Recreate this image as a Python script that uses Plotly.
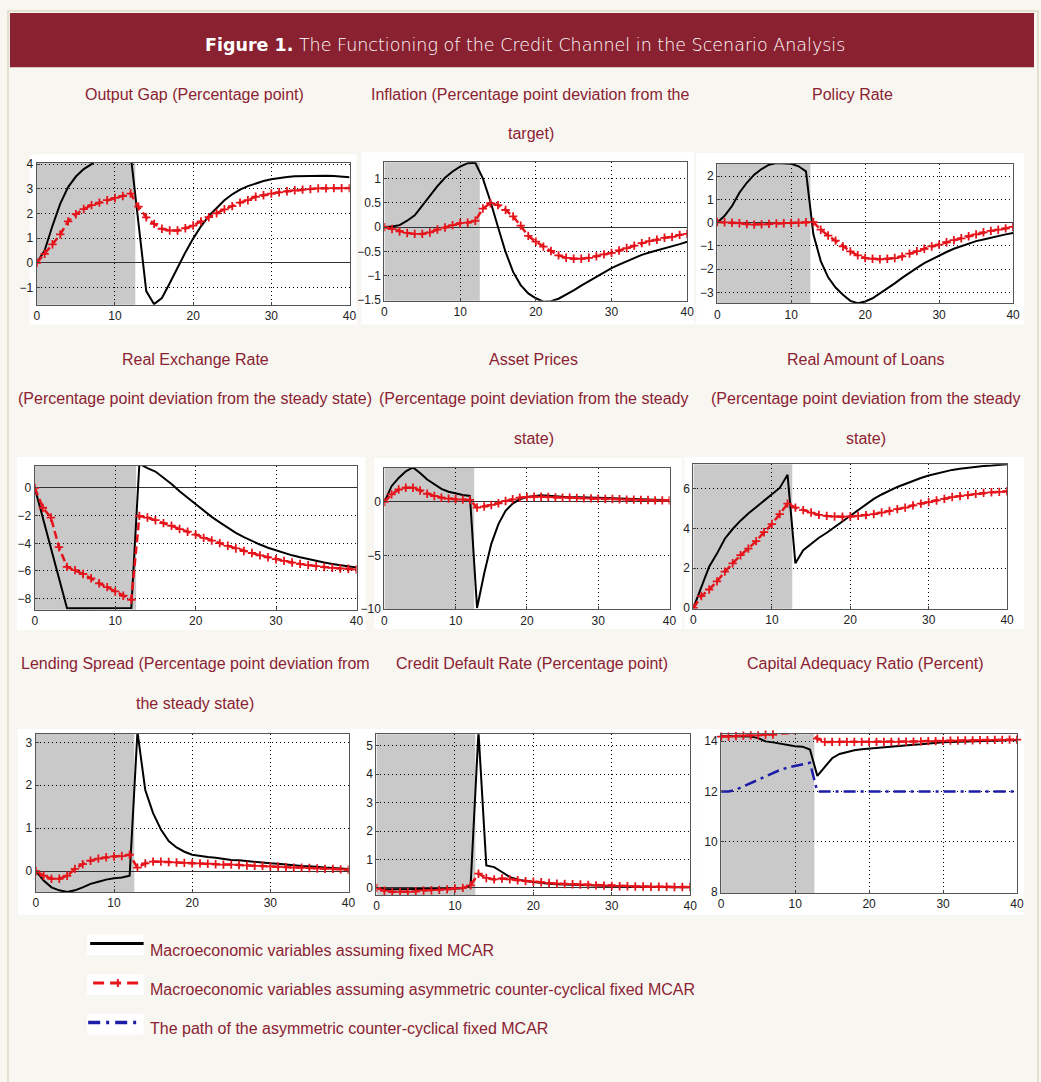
import plotly.graph_objects as go

W, H = 1041, 1082

quarters = list(range(41))
shock_end = 12.6
x_ticks = [0, 10, 20, 30, 40]

# ---------------- data ----------------
output_gap_fixed = [0, 0.5, 1.5, 2.4, 3.07, 3.5, 3.8, 4.0, 4.3, 4.5, 4.6, 4.6, 4.4,
                    1.5, -1.15, -1.68, -1.43, -0.83, -0.17, 0.42, 0.98,
                    1.48, 1.9, 2.24, 2.54, 2.78, 2.97, 3.11, 3.23, 3.32, 3.39,
                    3.44, 3.48, 3.51, 3.52, 3.53, 3.53, 3.53, 3.52, 3.5, 3.47]
output_gap_ccyb = [0, 0.36, 0.75, 1.15, 1.68, 1.97, 2.18, 2.34, 2.44, 2.54, 2.63, 2.71, 2.81,
                   2.28, 1.84, 1.58, 1.38, 1.31, 1.31, 1.4, 1.51,
                   1.68, 1.85, 2.01, 2.17, 2.3, 2.44, 2.54, 2.68, 2.74, 2.81,
                   2.86, 2.9, 2.94, 2.97, 2.99, 3.02, 3.02, 3.03, 3.03, 3.03]

inflation_fixed = [0, 0.01, 0.04, 0.13, 0.24, 0.43, 0.64, 0.84, 1.01, 1.14, 1.24, 1.31, 1.32,
                   1.0, 0.53, 0.0, -0.51, -0.92, -1.19, -1.36, -1.46,
                   -1.53, -1.52, -1.47, -1.39, -1.3, -1.2, -1.11, -1.01, -0.93, -0.84,
                   -0.77, -0.7, -0.64, -0.57, -0.52, -0.48, -0.43, -0.39, -0.35, -0.3]
inflation_ccyb = [0, -0.04, -0.09, -0.12, -0.14, -0.14, -0.11, -0.05, -0.01, 0.04, 0.08, 0.09, 0.13,
                  0.38, 0.49, 0.45, 0.35, 0.22, 0.03, -0.18, -0.3,
                  -0.4, -0.49, -0.58, -0.63, -0.65, -0.65, -0.63, -0.6, -0.56, -0.53,
                  -0.48, -0.43, -0.38, -0.33, -0.29, -0.26, -0.22, -0.2, -0.16, -0.14]

policy_fixed = [0, 0.3, 0.72, 1.29, 1.72, 2.07, 2.31, 2.5, 2.57, 2.57, 2.54, 2.43, 2.21,
                -0.5, -1.65, -2.35, -2.79, -3.1, -3.36, -3.46, -3.39,
                -3.25, -3.04, -2.82, -2.61, -2.37, -2.14, -1.94, -1.74, -1.57, -1.4,
                -1.26, -1.12, -1.01, -0.89, -0.79, -0.72, -0.64, -0.57, -0.5, -0.44]
policy_ccyb = [0.03, 0.02, 0.0, -0.02, -0.06, -0.08, -0.07, -0.05, -0.03, -0.02, -0.01, 0.0, 0.02,
               0.03, -0.3, -0.55, -0.77, -1.02, -1.23, -1.4, -1.52,
               -1.55, -1.57, -1.55, -1.52, -1.45, -1.33, -1.22, -1.12, -1.02, -0.94,
               -0.84, -0.75, -0.67, -0.58, -0.5, -0.41, -0.35, -0.3, -0.24, -0.18]

rer_fixed = [0, -2.2, -4.4, -6.6, -8.7, -8.7, -8.7, -8.7, -8.7, -8.7, -8.7, -8.7, -8.68,
             1.75, 1.43, 1.19, 0.76, 0.29, -0.24, -0.71, -1.19,
             -1.66, -2.09, -2.49, -2.9, -3.25, -3.56, -3.85, -4.09, -4.32, -4.51,
             -4.7, -4.87, -5.01, -5.15, -5.27, -5.39, -5.49, -5.58, -5.65, -5.75]
rer_ccyb = [0, -1.43, -2.14, -4.28, -5.7, -5.94, -6.22, -6.53, -6.89, -7.17, -7.48, -7.79, -8.08,
            -2.02, -2.14, -2.33, -2.54, -2.73, -2.97, -3.16, -3.37,
            -3.61, -3.8, -3.99, -4.18, -4.37, -4.56, -4.7, -4.87, -5.01, -5.15,
            -5.27, -5.39, -5.49, -5.58, -5.65, -5.72, -5.77, -5.82, -5.84, -5.89]

asset_fixed = [0, 1.48, 2.25, 2.87, 3.24, 2.72, 2.1, 1.64, 1.23, 0.96, 0.77, 0.65, 0.56,
               -9.94, -6.7, -3.92, -2.07, -0.83, -0.15, 0.25, 0.46,
               0.56, 0.62, 0.59, 0.52, 0.49, 0.46, 0.46, 0.43, 0.4, 0.4,
               0.37, 0.34, 0.31, 0.28, 0.25, 0.22, 0.19, 0.19, 0.15, 0.15]
asset_ccyb = [0, 0.71, 1.17, 1.33, 1.33, 1.08, 0.77, 0.56, 0.4, 0.31, 0.25, 0.22, 0.19,
              -0.52, -0.43, -0.28, -0.12, 0.09, 0.25, 0.4, 0.46,
              0.49, 0.49, 0.46, 0.43, 0.4, 0.4, 0.37, 0.34, 0.34, 0.31,
              0.28, 0.28, 0.25, 0.22, 0.22, 0.19, 0.19, 0.15, 0.15, 0.15]

loans_fixed = [0, 1.09, 2.08, 2.74, 3.49, 3.98, 4.4, 4.76, 5.09, 5.39, 5.75, 6.05, 6.71,
               2.25, 2.91, 3.24, 3.54, 3.79, 4.07, 4.36, 4.64,
               4.93, 5.22, 5.5, 5.72, 5.92, 6.1, 6.25, 6.41, 6.55, 6.68,
               6.78, 6.88, 6.96, 7.02, 7.07, 7.12, 7.16, 7.18, 7.21, 7.25]
loans_ccyb = [0, 0.6, 0.93, 1.34, 1.83, 2.25, 2.66, 2.99, 3.37, 3.82, 4.23, 4.73, 5.26,
              5.06, 4.93, 4.81, 4.69, 4.64, 4.61, 4.6, 4.61,
              4.64, 4.68, 4.73, 4.81, 4.89, 4.98, 5.06, 5.17, 5.26, 5.34,
              5.42, 5.5, 5.59, 5.64, 5.69, 5.75, 5.8, 5.83, 5.85, 5.88]

spread_fixed = [0, -0.22, -0.38, -0.45, -0.49, -0.45, -0.38, -0.3, -0.25, -0.2, -0.17, -0.15, -0.11,
                3.25, 1.89, 1.35, 0.97, 0.7, 0.55, 0.45, 0.38,
                0.35, 0.33, 0.31, 0.28, 0.26, 0.25, 0.23, 0.22, 0.2, 0.18,
                0.17, 0.15, 0.14, 0.12, 0.11, 0.09, 0.08, 0.07, 0.06, 0.05]
spread_ccyb = [0, -0.11, -0.18, -0.18, -0.11, 0.05, 0.16, 0.24, 0.29, 0.32, 0.34, 0.35, 0.38,
               0.08, 0.18, 0.22, 0.22, 0.21, 0.2, 0.19, 0.18,
               0.18, 0.17, 0.16, 0.15, 0.15, 0.14, 0.13, 0.12, 0.12, 0.11,
               0.1, 0.09, 0.08, 0.08, 0.07, 0.06, 0.05, 0.05, 0.04, 0.03]

default_fixed = [0, -0.04, -0.05, -0.05, -0.05, -0.05, -0.04, -0.04, -0.03, -0.03, -0.02, -0.01, 0.1,
                 5.5, 0.79, 0.73, 0.56, 0.38, 0.3, 0.24, 0.21,
                 0.17, 0.15, 0.13, 0.12, 0.1, 0.09, 0.08, 0.07, 0.07, 0.06,
                 0.05, 0.05, 0.04, 0.04, 0.03, 0.03, 0.03, 0.02, 0.02, 0.02]
default_ccyb = [0, -0.1, -0.14, -0.14, -0.14, -0.12, -0.09, -0.08, -0.07, -0.05, -0.02, 0, 0.09,
                0.5, 0.35, 0.3, 0.33, 0.3, 0.27, 0.24, 0.22,
                0.2, 0.17, 0.15, 0.14, 0.13, 0.12, 0.1, 0.09, 0.08, 0.07,
                0.06, 0.06, 0.05, 0.05, 0.04, 0.04, 0.04, 0.03, 0.03, 0.03]

car_fixed = [14.2, 14.2, 14.2, 14.2, 14.18, 14.12, 13.99, 13.95, 13.9, 13.85, 13.8, 13.78, 13.67,
             12.62, 12.99, 13.32, 13.49, 13.58, 13.64, 13.68, 13.71,
             13.74, 13.75, 13.78, 13.8, 13.83, 13.86, 13.88, 13.91, 13.93, 13.96,
             13.97, 13.98, 13.99, 14.0, 14.0, 14.01, 14.02, 14.02, 14.03, 14.03]
car_ccyb = [14.18, 14.18, 14.2, 14.22, 14.23, 14.23, 14.25, 14.26, 14.28, 14.3, 14.32, 14.35, 14.37,
            14.1, 13.97, 13.97, 13.97, 13.97, 13.97, 13.97, 13.97,
            13.97, 13.97, 13.97, 13.97, 13.98, 13.98, 13.99, 14.0, 14.0, 14.01,
            14.02, 14.02, 14.03, 14.03, 14.04, 14.04, 14.05, 14.05, 14.06, 14.06]
mcar_path = [12.0, 12.0, 12.07, 12.2, 12.33, 12.46, 12.59, 12.72, 12.86, 12.95, 13.01, 13.09, 13.14,
             12.0, 12.0, 12.0, 12.0, 12.0, 12.0, 12.0, 12.0,
             12.0, 12.0, 12.0, 12.0, 12.0, 12.0, 12.0, 12.0, 12.0, 12.0,
             12.0, 12.0, 12.0, 12.0, 12.0, 12.0, 12.0, 12.0, 12.0, 12.0]

titles = [
    ["Output Gap (Percentage point)"],
    ["Inflation (Percentage point deviation from the", "target)"],
    ["Policy Rate"],
    ["Real Exchange Rate", "(Percentage point deviation from the steady state)"],
    ["Asset Prices", "(Percentage point deviation from the steady", "state)"],
    ["Real Amount of Loans", "(Percentage point deviation from the steady", "state)"],
    ["Lending Spread (Percentage point deviation from", "the steady state)"],
    ["Credit Default Rate (Percentage point)"],
    ["Capital Adequacy Ratio (Percent)"],
]
y_tickvals = [
    [-1, 0, 1, 2, 3, 4],
    [-1.5, -1, -0.5, 0, 0.5, 1],
    [-3, -2, -1, 0, 1, 2],
    [-8, -6, -4, -2, 0],
    [-10, -5, 0],
    [0, 2, 4, 6],
    [0, 1, 2, 3],
    [0, 1, 2, 3, 4, 5],
    [8, 10, 12, 14],
]
fixed_series = [output_gap_fixed, inflation_fixed, policy_fixed, rer_fixed, asset_fixed,
                loans_fixed, spread_fixed, default_fixed, car_fixed]
ccyb_series = [output_gap_ccyb, inflation_ccyb, policy_ccyb, rer_ccyb, asset_ccyb,
               loans_ccyb, spread_ccyb, default_ccyb, car_ccyb]
legend_labels = ["Macroeconomic variables assuming fixed MCAR",
                 "Macroeconomic variables assuming asymmetric counter-cyclical fixed MCAR",
                 "The path of the asymmetric counter-cyclical fixed MCAR"]

# ---------------- layout geometry (pixels) ----------------
panels = [
    (34, 350, 159.5, 303, [-1.7, 4.06]),
    (385, 691, 159, 299, [-1.51, 1.33]),
    (721, 1020, 160.5, 301.5, [-3.46, 2.54]),
    (32, 357, 466, 611.5, [-8.8, 1.6]),
    (385, 673, 468, 611, [-10.05, 3.2]),
    (697, 1014, 464.5, 610.5, [-0.04, 7.24]),
    (33, 349, 737, 897, [-0.49, 3.2]),
    (377, 694, 737.5, 900, [-0.25, 5.4]),
    (725, 1024, 737.5, 898, [7.97, 14.27]),
]
white_boxes = [
    (27, 357, 151, 323), (362, 698, 149, 323), (700, 1031, 150, 323),
    (14, 366, 457, 632), (375, 686, 458, 631), (688, 1031, 457, 631),
    (15, 361, 732, 920), (361, 701, 732, 920), (701, 1031, 732, 920),
]
title_x = [193, 533, 858, 194, 536, 871, 194, 534, 871]
title_y = [[90, 130], [90, 130], [90, 130], [358, 398, 438], [358, 398, 438], [358, 398, 438],
           [666, 706], [666, 706], [666, 706]]

RED = "#e5141b"
BLACK = "#000000"
BLUE = "#1c1ca6"
TXT = "#8b2232"
TICKFONT = dict(family="Liberation Sans Narrow, Arial Narrow, Liberation Sans, sans-serif",
                size=12, color="#222222")
TEXTFONT = dict(family="Liberation Sans, Arial, sans-serif", size=16, color=TXT)


def px_x(v):
    return v / W


def px_y(v):
    return 1 - v / H


fig = go.Figure()
shapes = []
annotations = []
layout_axes = {}

for i, (x0, x1, yt, yb, yr) in enumerate(panels):
    n = i + 1
    xa = "x" if n == 1 else f"x{n}"
    ya = "y" if n == 1 else f"y{n}"
    layout_axes["xaxis" if n == 1 else f"xaxis{n}"] = dict(
        domain=[px_x(x0), px_x(x1)], range=[-0.02, 40.02], anchor=ya,
        tickvals=x_ticks, ticks="inside", ticklen=3, tickcolor="#444",
        showgrid=True, gridcolor="#000000", griddash="1px,3px", gridwidth=1,
        zeroline=False, showline=True, mirror=True, linecolor="#555555", linewidth=1,
        tickfont=TICKFONT, fixedrange=True)
    layout_axes["yaxis" if n == 1 else f"yaxis{n}"] = dict(
        domain=[px_y(yb), px_y(yt)], range=yr, anchor=xa,
        tickvals=y_tickvals[i], ticks="inside", ticklen=3, tickcolor="#444",
        showgrid=True, gridcolor="#000000", griddash="1px,3px", gridwidth=1,
        zeroline=(n != 9), zerolinecolor="#333333", zerolinewidth=1.2,
        showline=True, mirror=True, linecolor="#555555", linewidth=1,
        tickfont=TICKFONT, fixedrange=True)

    shapes.append(dict(type="rect", xref=xa, yref=f"{ya} domain", x0=0, x1=shock_end,
                       y0=0, y1=1, fillcolor="#c9c9c9", line=dict(width=0), layer="below"))

    fig.add_trace(go.Scatter(x=quarters, y=fixed_series[i], xaxis=xa, yaxis=ya, mode="lines",
                             line=dict(color=BLACK, width=2), showlegend=False,
                             hoverinfo="skip"))
    if n == 9:
        fig.add_trace(go.Scatter(x=quarters, y=mcar_path, xaxis=xa, yaxis=ya, mode="lines",
                                 line=dict(color=BLUE, width=2.5, dash="12px,5px,3px,5px"),
                                 showlegend=False, hoverinfo="skip"))
    fig.add_trace(go.Scatter(x=quarters, y=ccyb_series[i], xaxis=xa, yaxis=ya,
                             mode="lines+markers", cliponaxis=(n != 9),
                             line=dict(color=RED, width=2.5, dash="8px,4px"),
                             marker=dict(symbol="cross-thin", size=6,
                                         line=dict(width=1.8, color=RED)),
                             showlegend=False, hoverinfo="skip"))

    for line, yy in zip(titles[i], title_y[i]):
        annotations.append(dict(text=line, x=px_x(title_x[i]), y=px_y(yy), xref="paper",
                                yref="paper", xanchor="center", yanchor="middle",
                                showarrow=False, font=TEXTFONT))

for (bx0, bx1, by0, by1) in white_boxes:
    shapes.insert(0, dict(type="rect", xref="paper", yref="paper", x0=px_x(bx0), x1=px_x(bx1),
                          y0=px_y(by1), y1=px_y(by0), fillcolor="#ffffff",
                          line=dict(width=0), layer="below"))

shapes.insert(0, dict(type="rect", xref="paper", yref="paper", x0=px_x(5), x1=px_x(1045),
                      y0=px_y(1090), y1=px_y(6), fillcolor="#f8f6f1",
                      line=dict(color="#ddd8c4", width=1.5), layer="below"))
shapes.append(dict(type="rect", xref="paper", yref="paper", x0=px_x(7), x1=1,
                   y0=px_y(63), y1=px_y(8), fillcolor="#8a2131", line=dict(width=0),
                   layer="below"))
annotations.append(dict(
    text="<b>Figure 1.</b> The Functioning of the Credit Channel in the Scenario Analysis",
    x=px_x(527), y=px_y(40), xref="paper", yref="paper", xanchor="center", yanchor="middle",
    showarrow=False,
    font=dict(family="DejaVu Sans, sans-serif", size=17.5, color="#ffffff", weight=300)))

leg_y = [949, 989, 1029]
text_y = [956, 996, 1035]
for k in range(3):
    shapes.append(dict(type="rect", xref="paper", yref="paper", x0=px_x(85), x1=px_x(142),
                       y0=px_y(leg_y[k] + 12), y1=px_y(leg_y[k] - 9), fillcolor="#ffffff",
                       line=dict(width=0), layer="below"))
shapes.append(dict(type="line", xref="paper", yref="paper", x0=px_x(88), x1=px_x(142),
                   y0=px_y(leg_y[0]), y1=px_y(leg_y[0]), line=dict(color=BLACK, width=3)))
shapes.append(dict(type="line", xref="paper", yref="paper", x0=px_x(91), x1=px_x(142),
                   y0=px_y(leg_y[1]), y1=px_y(leg_y[1]),
                   line=dict(color=RED, width=3, dash="11px,6px")))
shapes.append(dict(type="line", xref="paper", yref="paper", x0=px_x(116), x1=px_x(116),
                   y0=px_y(leg_y[1] + 4), y1=px_y(leg_y[1] - 4), line=dict(color=RED, width=2)))
shapes.append(dict(type="line", xref="paper", yref="paper", x0=px_x(86), x1=px_x(140),
                   y0=px_y(leg_y[2]), y1=px_y(leg_y[2]),
                   line=dict(color=BLUE, width=3.5, dash="12px,6px,3px,6px")))
for k in range(3):
    annotations.append(dict(text=legend_labels[k], x=px_x(146), y=px_y(text_y[k]),
                            xref="paper", yref="paper", xanchor="left", yanchor="middle",
                            showarrow=False, font=TEXTFONT))

fig.update_layout(
    width=W, height=H, margin=dict(l=0, r=0, t=0, b=0),
    paper_bgcolor="#f8f6f1", plot_bgcolor="#ffffff",
    shapes=shapes, annotations=annotations, showlegend=False,
    **layout_axes)

fig.write_html("out.html", config={"displayModeBar": False},
               post_script=(
                   "document.documentElement.style.margin='0';"
                   "document.documentElement.style.overflow='hidden';"
                   "document.body.style.margin='0';"
                   "document.body.style.padding='0';"
                   "document.body.style.overflow='hidden';"
                   "var gd=document.getElementById('{plot_id}');"
                   "gd.style.position='fixed';gd.style.left='0px';gd.style.top='0px';"))
